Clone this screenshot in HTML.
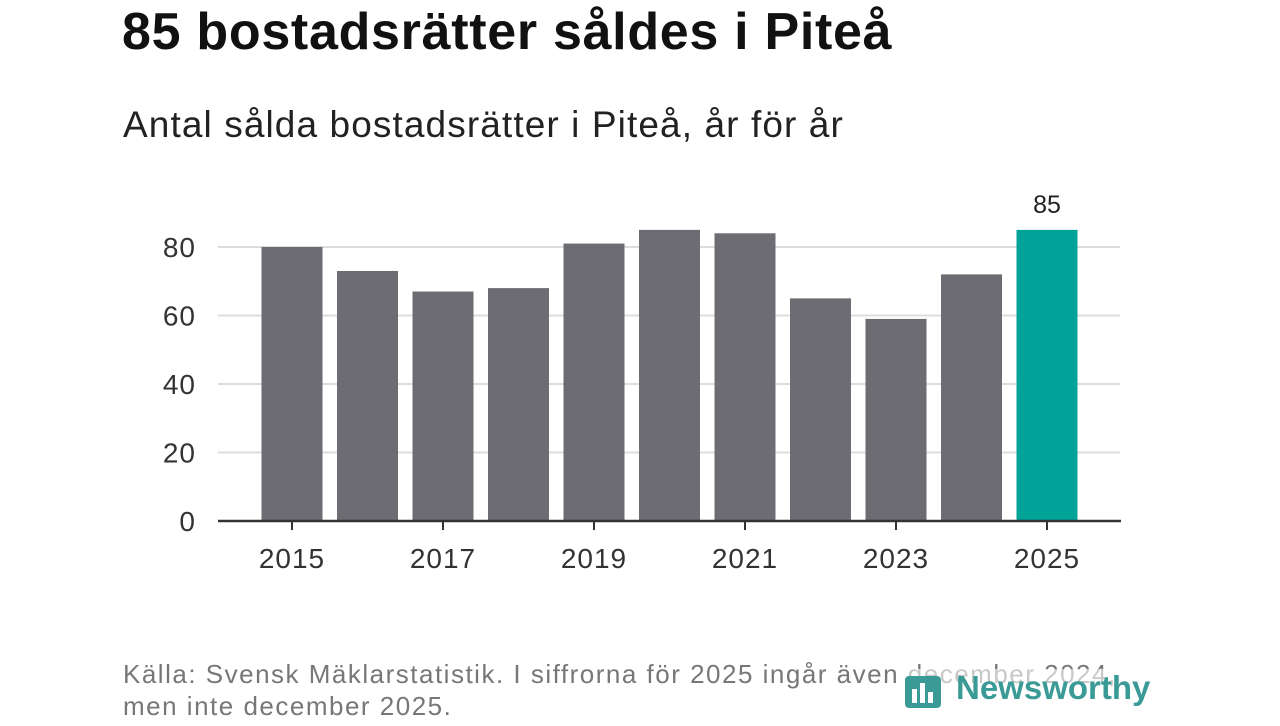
<!DOCTYPE html>
<html><head><meta charset="utf-8"><style>
body{margin:0;width:1280px;height:720px;background:#fff;overflow:hidden;font-family:"Liberation Sans","DejaVu Sans",sans-serif;position:relative}
.t{position:absolute;white-space:nowrap}
</style></head><body>
<div class="t" style="left:122px;top:2px;font-size:52px;letter-spacing:0.7px;font-weight:bold;color:#111">85 bostadsrätter såldes i Piteå</div>
<div class="t" style="left:123px;top:104px;font-size:37px;letter-spacing:1.1px;color:#222">Antal sålda bostadsrätter i Piteå, år för år</div>
<svg id="c" width="1280" height="720" style="position:absolute;left:0;top:0"></svg>
<div class="t" style="left:123px;top:658px;font-size:26px;letter-spacing:1.5px;line-height:32px;color:#777">Källa: Svensk Mäklarstatistik. I siffrorna för 2025 ingår även december 2024,<br>men inte december 2025.</div>
<div class="t" style="left:902px;top:669px;font-size:33px;font-weight:bold;color:#3a9a96;background:rgba(255,255,255,0.6)"><span style="display:inline-block;width:54px;height:40px;vertical-align:middle;position:relative"><svg width="54" height="48"><rect x="3" y="6" width="36" height="32" rx="4" fill="#3a9a96"/><rect x="10" y="19" width="5" height="14" fill="#fff"/><rect x="18" y="13" width="5" height="20" fill="#fff"/><rect x="26" y="22" width="5" height="11" fill="#fff"/></svg></span>Newsworthy</div>
<script>
const years=[2015,2016,2017,2018,2019,2020,2021,2022,2023,2024,2025];
const values=[80,73,67,68,81,85,84,65,59,72,85];
const yTicks=[0,20,40,60,80];
const xTickYears=[2015,2017,2019,2021,2023,2025];
const ns="http://www.w3.org/2000/svg",svg=document.getElementById('c');
const y=v=>521-v*3.425;
const x=yr=>292+(yr-2015)*75.5;
function mk(t,a){const e=document.createElementNS(ns,t);for(const k in a)e.setAttribute(k,a[k]);svg.appendChild(e);return e;}
yTicks.forEach(v=>{
 if(v>0){const l=mk('line',{x1:218,x2:1120,y1:y(v),y2:y(v),stroke:'#ddd','stroke-width':2});
 
 }
 const t=mk('text',{x:196,y:y(v)+10,'text-anchor':'end','font-size':28,'letter-spacing':1,fill:'#333','font-family':'Liberation Sans, sans-serif'});t.textContent=v;
 
 
});
years.forEach((yr,i)=>{
 const last=i===years.length-1;
 const r=mk('rect',{x:x(yr)-30.5,y:y(values[i]),width:61,height:521-y(values[i]),fill:last?'#00a398':'#6d6c73'});
 
 
 if(last){const t=mk('text',{x:x(yr),y:y(values[i])-17,'text-anchor':'middle','font-size':25,fill:'#222','font-family':'Liberation Sans, sans-serif'});t.textContent=values[i];
 
 }
});
const ax=mk('line',{x1:218,x2:1121,y1:521,y2:521,stroke:'#333','stroke-width':2.5});


xTickYears.forEach(yr=>{
 const tk=mk('line',{x1:x(yr),x2:x(yr),y1:521,y2:530,stroke:'#333','stroke-width':2});
 
 
 const t=mk('text',{x:x(yr),y:568,'text-anchor':'middle','font-size':28,'letter-spacing':1,fill:'#333','font-family':'Liberation Sans, sans-serif'});t.textContent=yr;
 
 
});
</script>
</body></html>
